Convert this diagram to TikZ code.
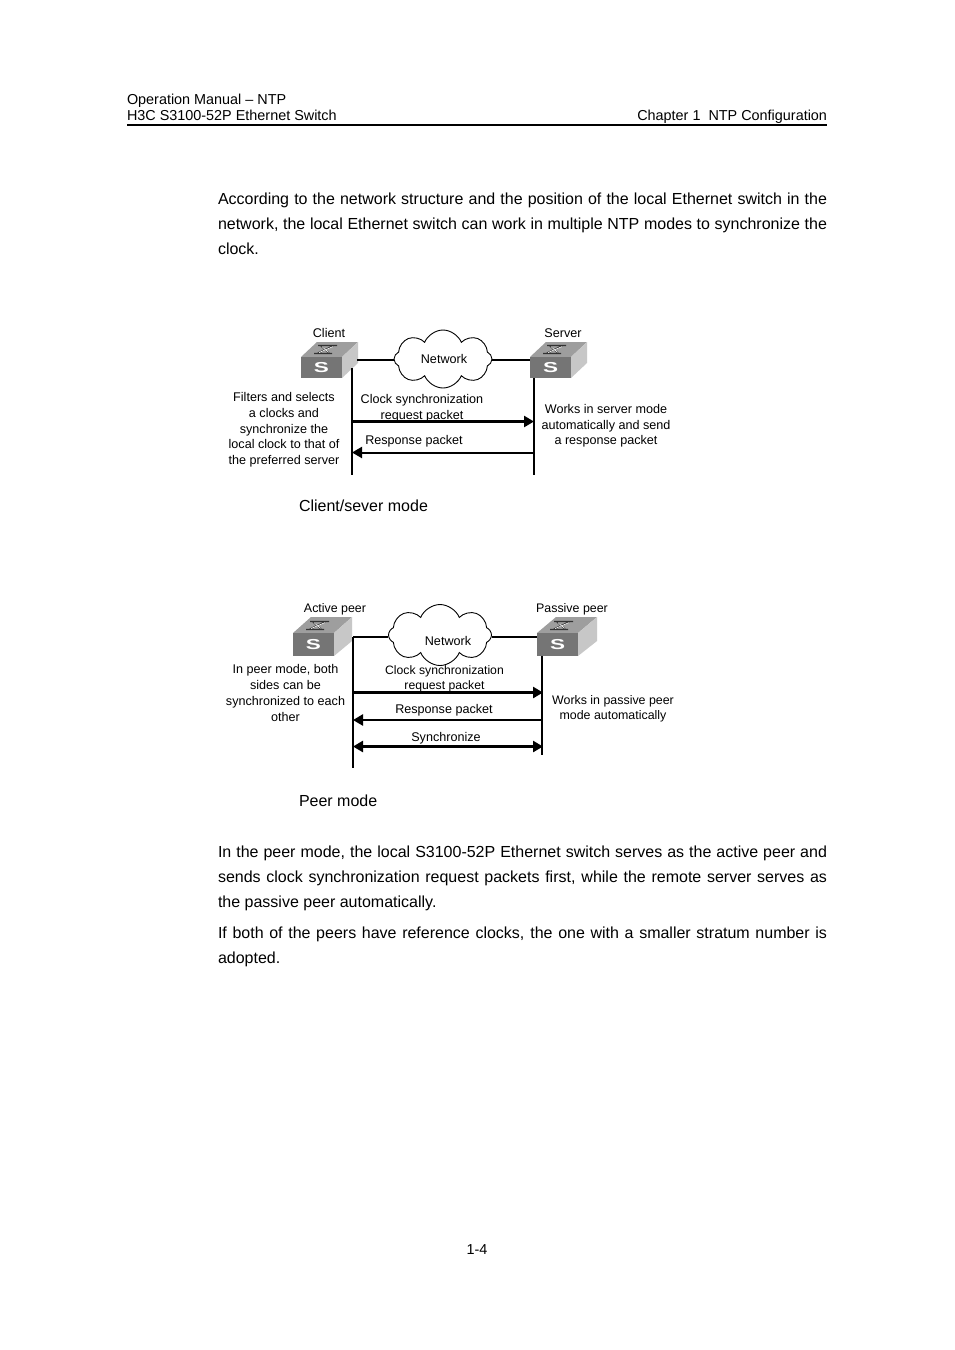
\documentclass[tikz,border=0pt]{standalone}
\usepackage{fontspec}
\setmainfont{Liberation Sans}
\usetikzlibrary{shapes.symbols,arrows.meta}
\newcommand{\bodyfont}{\fontsize{16}{25}\selectfont}
\newcommand{\labfont}{\fontsize{12.6}{15.7}\selectfont}
\newcommand{\smallfont}{\fontsize{12.4}{15.5}\selectfont}
\newcommand{\jl}[1]{\makebox[609pt][s]{#1}}
\tikzset{
  txt/.style={inner sep=0pt,outer sep=0pt},
  lab/.style={txt,align=center,font=\labfont},
  slab/.style={txt,align=center,font=\smallfont},
  body/.style={txt,anchor=north west,align=left,font=\bodyfont},
  head/.style={txt,font=\fontsize{14.4}{16}\selectfont},
  capt/.style={txt,anchor=west,font=\fontsize{16}{18}\selectfont},
  netcloud/.style={draw=black,fill=white,line width=0.9pt,cloud,cloud puffs=8,cloud puff arc=135,aspect=1.7,inner sep=0pt,font=\labfont},
  wire/.style={line width=1.4pt,black},
  msg/.style={line width=2.6pt,-{Triangle[length=10pt,width=11pt]}},
  msgthin/.style={line width=2pt,-{Triangle[length=10pt,width=11pt]}},
  msgboth/.style={line width=2.6pt,{Triangle[length=10pt,width=11pt]}-{Triangle[length=10pt,width=11pt]}},
}
\definecolor{swfront}{gray}{0.46}
\definecolor{swtop}{gray}{0.62}
\definecolor{swside}{gray}{0.78}
% name, front-left x, front-top y, front-bottom y, back-top y, depth x
\newcommand{\switchbox}[6]{%
  \fill[swtop] (#2,#3) -- (#2+#6,#5) -- (#2+41+#6,#5) -- (#2+41,#3) -- cycle;
  \fill[swside] (#2+41,#3) -- (#2+41+#6,#5) -- (#2+41+#6,#4-15) -- (#2+41,#4) -- cycle;
  \node[fill=swfront,txt,minimum width=41pt,minimum height={#4-#3},anchor=north west,text=white,font=\bfseries\fontsize{18}{18}\selectfont] (#1) at (#2,#3) {\scalebox{1.25}[0.8]{S}};
  \draw[line width=1.4pt,black!80] (#2+17,#3-11.5) -- (#2+36,#3-11.5) (#2+13,#3-3.5) -- (#2+31,#3-3.5) (#2+20,#3-11) -- (#2+28,#3-4) (#2+32,#3-11) -- (#2+17,#3-4);
  \draw[line width=0.6pt,white] (#2+18,#3-4.4) -- (#2+32,#3-10.4) (#2+21,#3-10.4) -- (#2+27.5,#3-4.6);
}
\begin{document}
\begin{tikzpicture}[x=1pt,y=-1pt]
\useasboundingbox[fill=white] (0,0) rectangle (954,1350);
% page header
\node[head,anchor=base west] (h1) at (127,104) {Operation Manual – NTP};
\node[head,anchor=base west] (h2) at (127,120) {H3C S3100-52P Ethernet Switch};
\node[head,anchor=base east] (h3) at (827,120) {Chapter 1\ \ NTP Configuration};
\coordinate (ruleL) at (127,124.5);
\coordinate (ruleR) at (827,124.5);
\draw[line width=2pt] (ruleL) -- (ruleR);
% body
\node[body] (p1) at (218,192.5) {\jl{According to the network structure and the position of the local Ethernet switch in the}\\\jl{network, the local Ethernet switch can work in multiple NTP modes to synchronize the}\\clock.};
\node[body] (p2) at (218,845.5) {\jl{In the peer mode, the local S3100-52P Ethernet switch serves as the active peer and}\\\jl{sends clock synchronization request packets first, while the remote server serves as}\\the passive peer automatically.};
\node[body] (p3) at (218,926.5) {\jl{If both of the peers have reference clocks, the one with a smaller stratum number is}\\adopted.};
\node[head,anchor=center] (pg) at (477,1249.5) {1-4};
% ---- client/server
\switchbox{client}{301}{357}{378}{342}{16}
\switchbox{server}{530}{357}{378}{342}{16}
\coordinate (cR) at (357,360);
\coordinate (sL) at (530,360);
\node[netcloud,minimum width=98pt,minimum height=58pt] (net1) at (443,359) {};
\node[lab] (nt1) at (444,358.5) {Network};
\draw[wire] (cR) -- (cR -| net1.west);
\draw[wire] (sL -| net1.east) -- (sL);
\node[lab] (t1) at (329,332.5) {Client};
\node[lab] (t2) at (563,333) {Server};
\node[lab] (t3) at (284,430) {Filters and selects\\a clocks and\\synchronize the\\local clock to that of\\the preferred server};
\node[lab] (t4) at (422,408.5) {Clock synchronization\\request packet};
\node[lab] (t5) at (414,441) {Response packet};
\node[lab] (t6) at (606,426) {Works in server mode\\automatically and send\\a response packet};
\coordinate (l1a) at (352,368); \coordinate (l1b) at (352,475);
\coordinate (r1a) at (534,378); \coordinate (r1b) at (534,475);
\coordinate (a1L) at (352,421.5); \coordinate (a1R) at (534,421.5);
\coordinate (a2L) at (352,452.5); \coordinate (a2R) at (534,452.5);
\draw[wire] (l1a) -- (l1b);
\draw[wire] (r1a) -- (r1b);
\draw[msg] (a1L) -- (a1R);
\draw[msgthin] (a2R) -- (a2L);
\node[capt] (c1) at (299,505.5) {Client/sever mode};
% ---- peer
\switchbox{active}{293}{633}{656}{617}{18}
\switchbox{passive}{537}{633}{656}{617}{19}
\coordinate (pL) at (353,637);
\coordinate (pR) at (537,637);
\node[netcloud,minimum width=103pt,minimum height=61pt] (net2) at (440,635) {};
\node[lab] (nt2) at (448,640.5) {Network};
\draw[line width=2pt] (pL) -- (pL -| net2.west);
\draw[line width=2pt] (pR -| net2.east) -- (pR);
\node[slab] (t7) at (335,609.5) {Active peer};
\node[slab] (t8) at (572,609.5) {Passive peer};
\node[lab] (t9) at (285.5,693) {In peer mode, both\\sides can be\\synchronized to each\\other};
\node[slab,font=\fontsize{12.2}{15.5}\selectfont] (t10) at (444.5,679) {Clock synchronization\\request packet};
\node[lab] (t11) at (444,710) {Response packet};
\node[lab] (t12) at (446,738) {Synchronize};
\node[slab] (t13) at (613,709) {Works in passive peer\\mode automatically};
\coordinate (l2a) at (353,637); \coordinate (l2b) at (353,768);
\coordinate (r2a) at (542,656); \coordinate (r2b) at (542,755);
\coordinate (b1L) at (352,692.5); \coordinate (b1R) at (543,692.5);
\coordinate (b2L) at (353,720); \coordinate (b2R) at (543,720);
\coordinate (b3L) at (353,746.5); \coordinate (b3R) at (543,746.5);
\draw[line width=1.6pt] (l2a) -- (l2b);
\draw[line width=2pt] (r2a) -- (r2b);
\draw[msg] (b1L) -- (b1R);
\draw[msg] (b2R) -- (b2L);
\draw[msgboth] (b3L) -- (b3R);
\node[capt] (c2) at (299,800.5) {Peer mode};
\end{tikzpicture}
\end{document}
